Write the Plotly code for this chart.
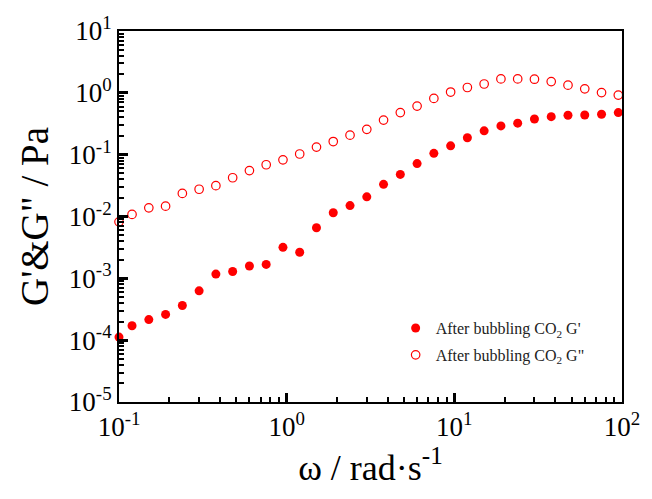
import plotly.graph_objects as go

# Angular frequency sweep (rad/s)
omega = [0.1, 0.1196, 0.1506, 0.1896, 0.2387, 0.3005, 0.3783, 0.4763, 0.5996, 0.7549,
         0.9504, 1.196, 1.506, 1.896, 2.387, 3.005, 3.783, 4.763, 5.996, 7.549,
         9.504, 11.96, 15.06, 18.96, 23.87, 30.05, 37.83, 47.63, 59.96, 75.49, 95.04]

# Storage modulus G' (Pa)
g_storage = [1.12e-4, 1.71e-4, 2.15e-4, 2.61e-4, 3.63e-4, 6.27e-4, 1.17e-3, 1.29e-3, 1.58e-3, 1.68e-3,
             3.17e-3, 2.64e-3, 6.58e-3, 1.15e-2, 1.50e-2, 2.08e-2, 3.31e-2, 4.8e-2, 7.18e-2, 0.105,
             0.139, 0.188, 0.243, 0.292, 0.323, 0.378, 0.412, 0.434, 0.438, 0.450, 0.479]

# Loss modulus G'' (Pa)
g_loss = [8.2e-3, 1.08e-2, 1.38e-2, 1.47e-2, 2.36e-2, 2.76e-2, 3.15e-2, 4.23e-2, 5.52e-2, 6.87e-2,
          8.24e-2, 0.1026, 0.1325, 0.163, 0.207, 0.257, 0.362, 0.479, 0.61, 0.813,
          1.03, 1.22, 1.39, 1.68, 1.68, 1.66, 1.52, 1.33, 1.16, 1.01, 0.92]

x_tickvals = [0.1, 1, 10, 100]
x_ticktext = ["10<sup>-1</sup>", "10<sup>0</sup>", "10<sup>1</sup>", "10<sup>2</sup>"]
y_tickvals = [1e-5, 1e-4, 1e-3, 1e-2, 1e-1, 1, 10]
y_ticktext = ["10<sup>-5</sup>", "10<sup>-4</sup>", "10<sup>-3</sup>", "10<sup>-2</sup>",
              "10<sup>-1</sup>", "10<sup>0</sup>", "10<sup>1</sup>"]

FONT = "Liberation Serif"
RED = "#ff0000"


def log_minor_ticks(lo_exp, hi_exp):
    """Positions 2..9 x 10^k inside each decade of a log axis."""
    return [d * 10.0 ** k for k in range(lo_exp, hi_exp) for d in range(2, 10)]


fig = go.Figure()
fig.add_trace(go.Scatter(
    x=omega, y=g_storage, mode="markers",
    name="After bubbling CO<sub>2</sub> G'", legendgroup="a",
    marker=dict(symbol="circle", size=9, color=RED, line=dict(width=0)),
    cliponaxis=False,
))
fig.add_trace(go.Scatter(
    x=omega, y=g_loss, mode="markers",
    name="After bubbling CO<sub>2</sub> G\"", legendgroup="b",
    marker=dict(symbol="circle-open", size=8.5, color=RED, line=dict(width=1.2)),
    cliponaxis=False,
))

axis_common = dict(
    type="log",
    showgrid=False, zeroline=False,
    showline=True, linecolor="black", linewidth=2, mirror=True,
    ticks="inside", ticklen=9, tickwidth=2.5, tickcolor="black",
    tickfont=dict(family=FONT, size=27, color="black"),
    tickmode="array",
)
minor_common = dict(ticks="inside", ticklen=5, tickwidth=2, tickcolor="black",
                    showgrid=False, tickmode="array")

fig.update_xaxes(
    **axis_common,
    range=[-1, 2],
    tickvals=x_tickvals, ticktext=x_ticktext,
    minor=dict(**minor_common, tickvals=log_minor_ticks(-1, 2)),
    title=dict(text="ω / rad·s<sup>-1</sup>", font=dict(family=FONT, size=36, color="black"), standoff=6),
)
fig.update_yaxes(
    **axis_common,
    range=[-5, 1],
    tickvals=y_tickvals, ticktext=y_ticktext,
    minor=dict(**minor_common, tickvals=log_minor_ticks(-5, 1)),
    title=dict(text="G'&G\" / Pa", font=dict(family=FONT, size=39, color="black"), standoff=8),
)

fig.update_layout(
    width=652, height=499,
    margin=dict(l=119, r=26, t=24, b=97),
    paper_bgcolor="white", plot_bgcolor="white",
    showlegend=True,
    legend=dict(
        x=0.55, y=0.245, xanchor="left", yanchor="top",
        bgcolor="rgba(0,0,0,0)", borderwidth=0,
        font=dict(family=FONT, size=16, color="#222222"),
        tracegroupgap=3,
    ),
)

fig.write_html("out.html")
